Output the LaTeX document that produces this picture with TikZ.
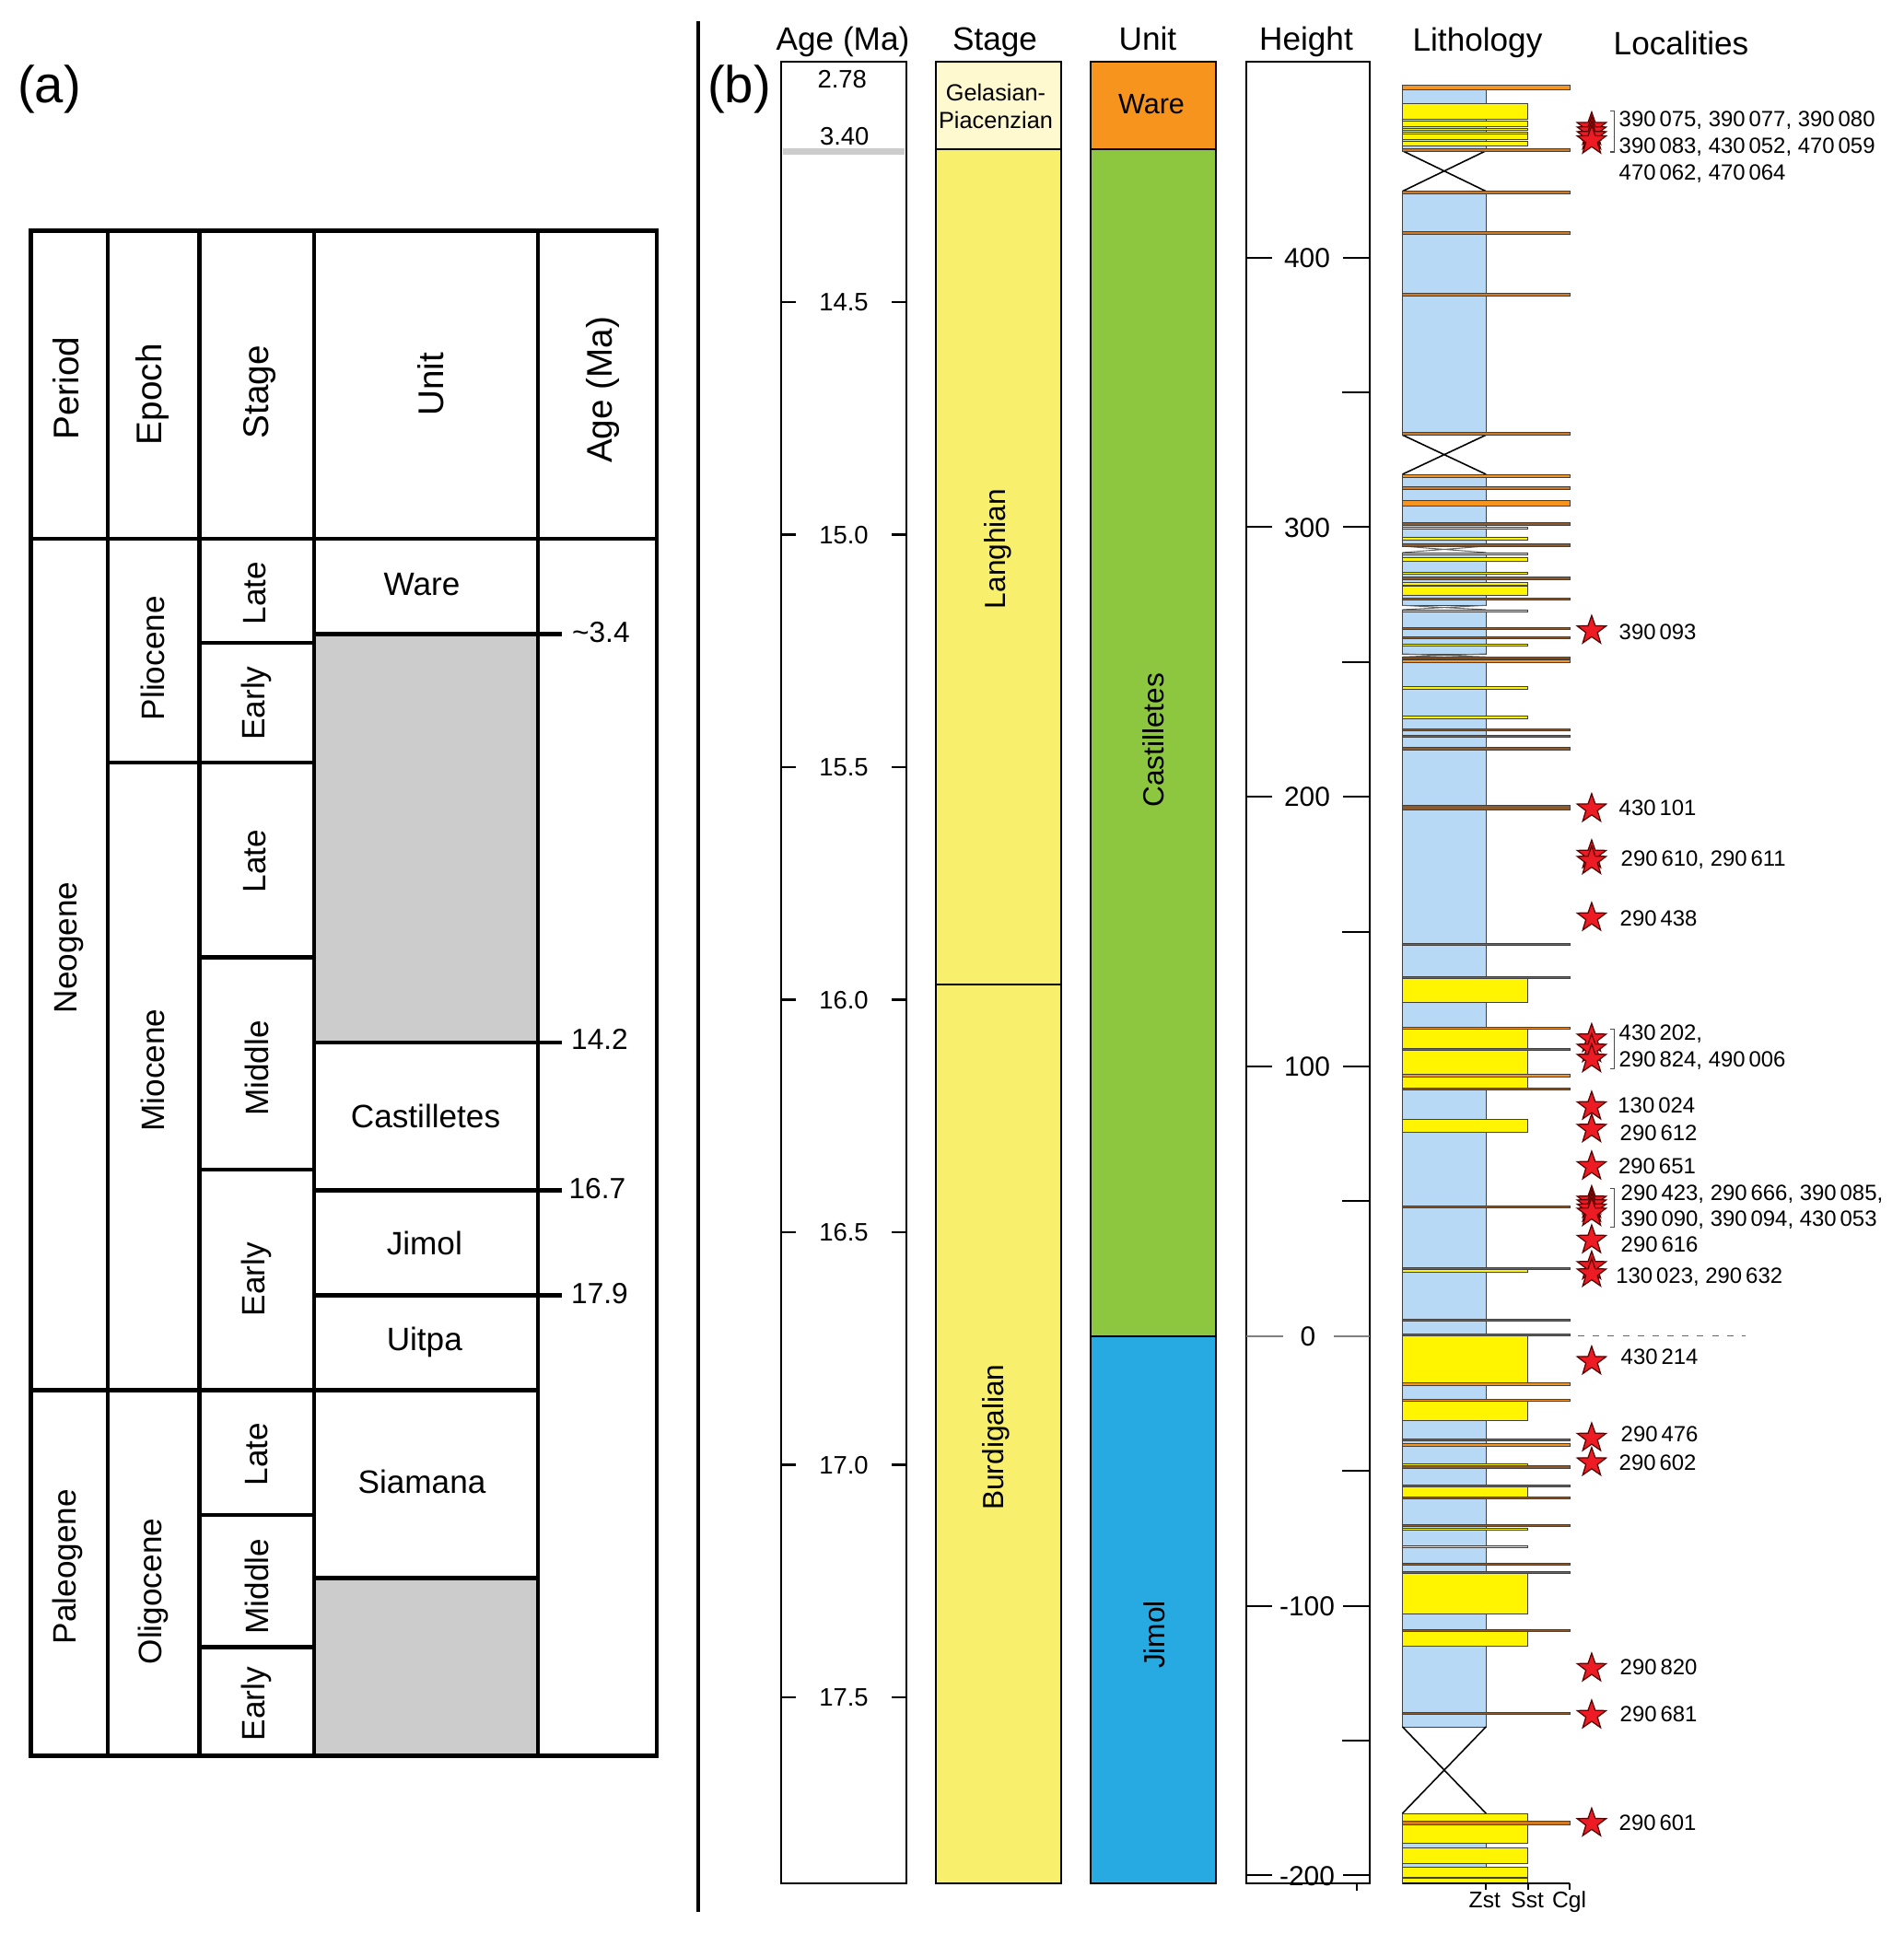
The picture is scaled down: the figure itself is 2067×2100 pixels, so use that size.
\documentclass[tikz,border=0pt]{standalone}
\usepackage{fontspec}
\setmainfont{Liberation Sans}
\usetikzlibrary{shapes.geometric}
\definecolor{zstblue}{HTML}{B7D9F5}
\definecolor{sstyel}{HTML}{FFF500}
\definecolor{cglor}{HTML}{F7941D}
\definecolor{cgldk}{HTML}{D27A22}
\definecolor{cglbr}{HTML}{8C5A2B}
\definecolor{gelas}{HTML}{FFF9CF}
\definecolor{stageyel}{HTML}{F8F06C}
\definecolor{wareor}{HTML}{F7941E}
\definecolor{castgr}{HTML}{8DC63F}
\definecolor{jimolbl}{HTML}{27AAE1}
\definecolor{starred}{HTML}{ED1C24}
\definecolor{tablegray}{HTML}{CCCCCC}
\newcommand{\fsz}[1]{\fontsize{#1}{#1}\selectfont}
\begin{document}
\begin{tikzpicture}[x=0.01cm,y=-0.01cm,
  tbl/.style={line width=1.3pt},
  hdrA/.style={font=\fsz{11}, inner sep=0pt, rotate=90},
  cellA/.style={font=\fsz{10}, inner sep=0pt},
  rcellA/.style={font=\fsz{10}, inner sep=0pt, rotate=90},
  agelabA/.style={font=\fsz{9}, inner sep=0pt, text height=6.45pt, text depth=0pt},
  hdrB/.style={font=\fsz{10}, inner sep=0pt, anchor=base},
  colbox/.style={draw=black, line width=0.6pt},
  agelab/.style={font=\fsz{7.8}, inner sep=0pt, text height=5.6pt, text depth=0pt},
  hlab/.style={font=\fsz{8.5}, inner sep=0pt, text height=6.1pt, text depth=0pt},
  tickln/.style={line width=0.6pt},
  bedline/.style={draw=black!75, line width=0.28pt},
  locstar/.style={star, star points=5, star point ratio=2.5, minimum size=0.33cm, inner sep=0pt, fill=starred, draw=red!35!black, line width=0.35pt},
  loctext/.style={font=\fsz{6.8}, inner sep=0pt, anchor=west, text height=4.9pt, text depth=0pt},
  brk/.style={draw=black!70, line width=0.4pt},
  lithlab/.style={font=\fsz{7}, inner sep=0pt, text height=5pt, text depth=0pt}]
\useasboundingbox (0,0) rectangle (2067,2100);
\fill[white] (0,0) rectangle (2067,2100);

% ================= Panel (a) =================
\node[font=\fsz{16}, inner sep=0pt] (labA) at (53.6,96.5) {(a)};
\fill[tablegray] (341,688.6) rectangle (584,1132);
\fill[tablegray] (341,1713.3) rectangle (584,1906.3);
\draw[tbl] (33.5,250.7) rectangle (713,1906.3);
\draw[tbl] (33.5,585) -- (713,585);
\foreach \xx in {116.8,216.7,341,584} \draw[tbl] (\xx,250.7) -- (\xx,1906.3);
\draw[tbl] (33.5,1509.7) -- (584,1509.7);
\draw[tbl] (116.8,827.9) -- (341,827.9);
\foreach \yy in {698,1039.5,1270,1645,1788.4} \draw[tbl] (216.7,\yy) -- (341,\yy);
\foreach \yy in {688.6,1132,1292.7,1406.6} \draw[tbl] (341,\yy) -- (609.5,\yy);
\draw[tbl] (341,1713.3) -- (584,1713.3);

\node[hdrA] (hPeriod) at (72,421.7) {Period};
\node[hdrA] (hEpoch) at (165,428.3) {Epoch};
\node[hdrA] (hStage) at (282,425.8) {Stage};
\node[hdrA] (hUnit) at (468,417.5) {Unit};
\node[hdrA] (hAge) at (654,423.3) {Age (Ma)};

\node[rcellA] (pNeo) at (75,1029) {Neogene};
\node[rcellA] (pPal) at (73.7,1701) {Paleogene};
\node[rcellA] (ePli) at (166,714.7) {Pliocene};
\node[rcellA] (eMio) at (166,1162) {Miocene};
\node[rcellA] (eOli) at (166,1728) {Oligocene};
\node[rcellA] (s1) at (277,644) {Late};
\node[rcellA] (s2) at (278.6,763.6) {Early};
\node[rcellA] (s3) at (277,935) {Late};
\node[rcellA] (s4) at (278.6,1160) {Middle};
\node[rcellA] (s5) at (278.6,1389) {Early};
\node[rcellA] (s6) at (278.6,1579) {Late};
\node[rcellA] (s7) at (278.6,1722.7) {Middle};
\node[rcellA] (s8) at (278.6,1850) {Early};
\node[cellA] (uWare) at (458,635) {Ware};
\node[cellA] (uCast) at (462,1212.3) {Castilletes};
\node[cellA] (uJim) at (460.8,1350.3) {Jimol};
\node[cellA] (uUit) at (460.8,1457.5) {Uitpa};
\node[cellA] (uSia) at (458,1608.8) {Siamana};
\node[agelabA] (a34) at (652.4,685.9) {\textasciitilde 3.4};
\node[agelabA] (a142) at (651,1128) {14.2};
\node[agelabA] (a167) at (648.4,1290) {16.7};
\node[agelabA] (a179) at (651,1404) {17.9};

% ================= Panel (b) =================
\draw[line width=1.3pt] (758.2,22.8) -- (758.2,2076.4);
\node[font=\fsz{16}, inner sep=0pt] (labB) at (802.4,96.5) {(b)};

\node[hdrB] (hbAge) at (915,55) {Age (Ma)};
\node[hdrB] (hbStage) at (1080,55) {Stage};
\node[hdrB] (hbUnit) at (1246,55) {Unit};
\node[hdrB] (hbHeight) at (1418,55) {Height};
\node[hdrB] (hbLith) at (1604,56) {Lithology};
\node[hdrB] (hbLoc) at (1825,60) {Localities};

% Age column
\fill[tablegray] (850,160.7) rectangle (981.7,168.3);
\draw[colbox] (848.3,67.3) rectangle (984,2045);
\node[agelab] (ag278) at (914.3,85.2) {2.78};
\node[agelab] (ag340) at (916.7,147.5) {3.40};
\foreach \yy/\lab [count=\i] in {328/14.5,580.5/15.0,833/15.5,1085.5/16.0,1338/16.5,1590.5/17.0,1843/17.5}{
  \draw[tickln] (848.3,\yy) -- (864.3,\yy) (968,\yy) -- (984,\yy);
  \node[agelab] (agt\i) at (916,\yy) {\lab};
}

% Stage column
\fill[gelas] (1015.7,67.3) rectangle (1151.7,162.3);
\fill[stageyel] (1015.7,162.3) rectangle (1151.7,2045);
\draw[colbox] (1015.7,67.3) rectangle (1151.7,2045);
\draw[line width=0.6pt] (1015.7,162.3) -- (1151.7,162.3);
\draw[line width=0.6pt] (1015.7,1069) -- (1151.7,1069);
\node[font=\fontsize{7.2}{8.5}\selectfont, inner sep=0pt, align=center] (stGel) at (1081,115.3) {Gelasian-\\Piacenzian};
\node[font=\fsz{9}, inner sep=0pt, rotate=90] (stLan) at (1083,596) {Langhian};
\node[font=\fsz{9}, inner sep=0pt, rotate=90] (stBur) at (1081,1560.6) {Burdigalian};

% Unit column
\fill[wareor] (1184,67.3) rectangle (1320,162.3);
\fill[castgr] (1184,162.3) rectangle (1320,1450.8);
\fill[jimolbl] (1184,1450.8) rectangle (1320,2045);
\draw[colbox] (1184,67.3) rectangle (1320,2045);
\draw[line width=0.6pt] (1184,162.3) -- (1320,162.3);
\draw[line width=0.6pt] (1184,1450.8) -- (1320,1450.8);
\node[font=\fsz{8.7}, inner sep=0pt] (unWare) at (1250,113.3) {Ware};
\node[font=\fsz{9}, inner sep=0pt, rotate=90] (unCast) at (1252,803.8) {Castilletes};
\node[font=\fsz{9}, inner sep=0pt, rotate=90] (unJim) at (1253,1775) {Jimol};

% Height column
\draw[colbox] (1352.7,67.3) rectangle (1487.3,2045);
\foreach \yy/\lab [count=\i] in {279.6/400,572.4/300,865.2/200,1158/100,1743.6/-100,2036.4/-200}{
  \draw[tickln] (1352.7,\yy) -- (1381,\yy) (1458,\yy) -- (1487.3,\yy);
  \node[hlab] (ht\i) at (1419,\yy) {\lab};
}
\draw[tickln, gray] (1352.7,1450.8) -- (1392.7,1450.8) (1447.7,1450.8) -- (1487.3,1450.8);
\node[hlab] (ht0) at (1420,1450.8) {0};
\foreach \yy in {426,718.8,1011.6,1304.4,1597.2,1890}
  \draw[tickln] (1457,\yy) -- (1487.3,\yy);
\draw[tickln] (1473,2045) -- (1473,2053);

% Lithology column
\foreach \a/\b in {97/163.7,207.7/472.3,515/593,600/657.3,662/710,713.3/1875,1969/2045}
  \draw[bedline, fill=zstblue] (1522.5,\a) rectangle (1613.2,\b);
\foreach \a/\b in {163.7/207.7,472.3/515,1875/1969}
  \draw[line width=0.45pt] (1522.5,\a) -- (1613.2,\b) (1613.2,\a) -- (1522.5,\b);
\foreach \a/\b in {593/600,657.3/662,710/713.3}
  \draw[line width=0.3pt, black!60] (1522.5,\a) -- (1613.2,\b) (1613.2,\a) -- (1522.5,\b);
\foreach \a/\b in {112/129,131/137,139/141.5,143/145,145.5/151,153/158,572.3/574.3,583.3/586,600/602.7,605.7/609,621/623.3,632/635.3,636.7/646.7,662/664.3,699/701.7,745.7/748.3,777.3/780,1062/1088.3,1117.7/1138.3,1140.3/1166.7,1169/1181,1215/1229.3,1378.7/1381,1450.3/1501.5,1521.7/1542.7,1589/1591,1614.3/1625.7,1659.7/1661.7,1678.3/1680.3,1708.3/1752.3,1771.3/1787,1969/2001.7,2006.7/2023.3,2027.3/2038.3,2039.3/2045}
  \draw[bedline, fill=sstyel] (1522.5,\a) rectangle (1658.6,\b);
\foreach \a/\b/\c in {92/97/cglor,161/164/cgldk,207.7/210.7/cgldk,251.7/254.3/cgldk,318.3/321.3/cgldk,469.3/472.3/cgldk,515/518.7/cglor,528.3/531/cgldk,543.7/549.7/cglor,567.7/570/cglbr,590.3/593/cglbr,626.7/629/cglbr,649/651.3/cglbr,681/683.3/cglbr,691.3/693.7/cglbr,713.3/715.7/cglbr,716.7/719/cglor,791/793.3/cglbr,798.3/800.7/cglbr,811.7/814/cglbr,874/879/cglbr,1024/1026.3/cglbr,1060/1062/cglbr,1115.3/1117.7/cglor,1138.3/1140.3/cglbr,1166.7/1169/cglor,1181/1183.3/cglbr,1309.3/1311.7/cglbr,1376/1378/cglbr,1432/1434.3/cglbr,1448.3/1450.3/cglbr,1501.7/1504.3/cglor,1519.3/1521.7/cglor,1562.7/1564.7/cglbr,1567.7/1570/cglor,1591/1594.7/cglbr,1612.3/1614.3/cglbr,1625.7/1627.7/cglbr,1655.7/1657.7/cglbr,1697/1699/cglbr,1706.3/1708.3/cglbr,1769.3/1771.3/cglbr,1859.3/1861.5/cglbr,1977.7/1981/cgldk}
  \draw[bedline, fill=\c] (1522.5,\a) rectangle (1704.3,\b);
\draw[line width=0.5pt] (1522.5,2045) -- (1704.3,2045);
\foreach \xx in {1613.2,1658.6,1704.3} \draw[line width=0.5pt] (\xx,2045) -- (\xx,2051.7);
\node[lithlab] (lzst) at (1611.8,2062.3) {Zst};
\node[lithlab] (lsst) at (1658.2,2062.3) {Sst};
\node[lithlab] (lcgl) at (1703.6,2062.3) {Cgl};
\coordinate (zeroA) at (1713,1450.5);
\coordinate (zeroB) at (1895,1450.5);
\draw[gray!80!black, line width=0.4pt, dash pattern=on 2pt off 2.6pt] (zeroA) -- (zeroB);

% Localities: stars
\foreach \yy [count=\i] in {138.2,143,148,152.7,684.8,878.2,928.5,935,996.5,1128,1139,1150,1201.5,1226,1266.5,1304,1308,1312.5,1317,1346.5,1375,1383,1478.2,1561.5,1588.2,1811.5,1862.5,1979.8}
  \node[locstar] (st\i) at (1727.9,\yy) {};
% brackets
\draw[brk] (1748.2,120.7) -- (1752.5,120.7) -- (1752.5,165) -- (1748.2,165);
\draw[brk] (1748.2,1117.3) -- (1752.5,1117.3) -- (1752.5,1160.7) -- (1748.2,1160.7);
\draw[brk] (1748.2,1290.7) -- (1752.5,1290.7) -- (1752.5,1332.3) -- (1748.2,1332.3);
% texts
\node[loctext] (l1) at (1757,129.2) {390\,075, 390\,077, 390\,080};
\node[loctext] (l2) at (1757,157.5) {390\,083, 430\,052, 470\,059};
\node[loctext] (l3) at (1757,186.7) {470\,062, 470\,064};
\node[loctext] (l4) at (1757,685.5) {390\,093};
\node[loctext] (l5) at (1757,877.2) {430\,101};
\node[loctext] (l6) at (1759,932) {290\,610, 290\,611};
\node[loctext] (l7) at (1758,997) {290\,438};
\node[loctext] (l8) at (1757,1121.3) {430\,202,};
\node[loctext] (l9) at (1757,1149.5) {290\,824, 490\,006};
\node[loctext] (l10) at (1755.7,1199.5) {130\,024};
\node[loctext] (l11) at (1758,1229.5) {290\,612};
\node[loctext] (l12) at (1756.4,1265.5) {290\,651};
\node[loctext] (l13) at (1759,1294.5) {290\,423, 290\,666, 390\,085,};
\node[loctext] (l14) at (1759,1322.8) {390\,090, 390\,094, 430\,053};
\node[loctext] (l15) at (1759,1351.2) {290\,616};
\node[loctext] (l16) at (1753.6,1384.5) {130\,023, 290\,632};
\node[loctext] (l17) at (1759,1473.3) {430\,214};
\node[loctext] (l18) at (1759,1557.2) {290\,476};
\node[loctext] (l19) at (1757,1588.3) {290\,602};
\node[loctext] (l20) at (1758,1810) {290\,820};
\node[loctext] (l21) at (1758,1861.2) {290\,681};
\node[loctext] (l22) at (1757,1979.2) {290\,601};
\end{tikzpicture}
\end{document}
